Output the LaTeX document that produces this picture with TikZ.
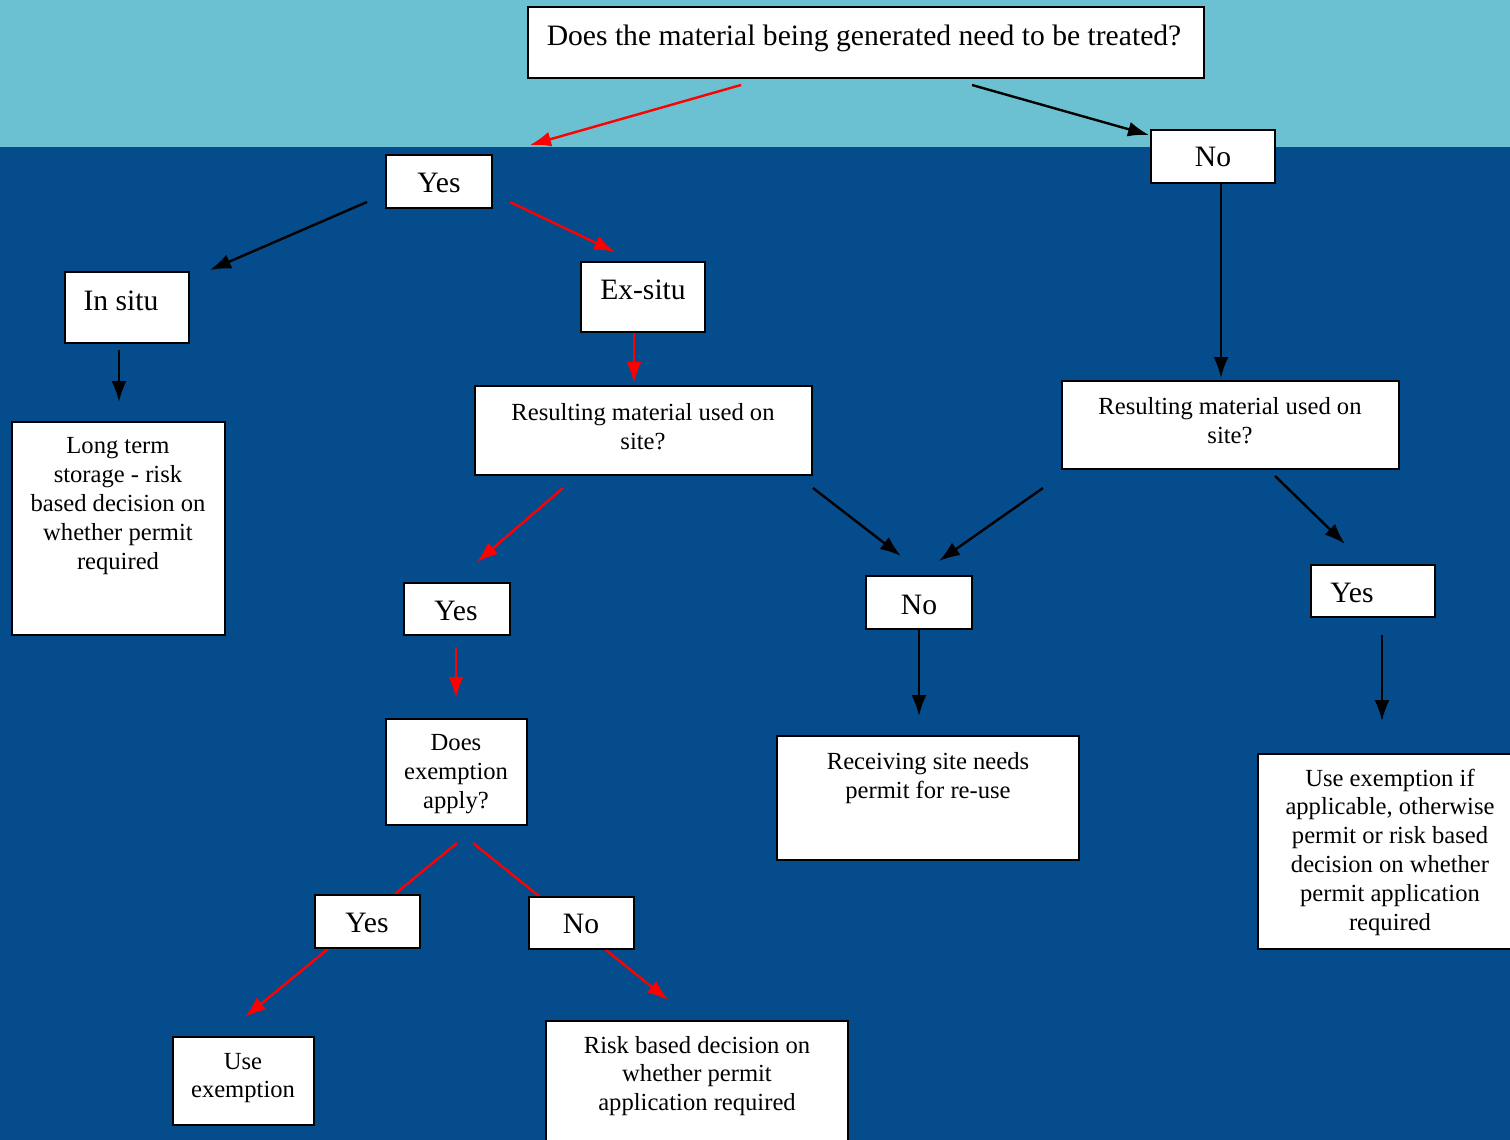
\documentclass[tikz,border=0pt]{standalone}
\usepackage{fontspec}
\setmainfont{Liberation Serif}
\usetikzlibrary{arrows.meta}
\definecolor{sky}{RGB}{107,193,210}
\definecolor{sea}{RGB}{5,76,140}
\tikzset{box/.style 2 args = {draw,fill=white,line width=1pt,inner sep=0pt,minimum width=#1*0.5pt,minimum height=#2*0.5pt}}
\tikzset{big/.style = {font=\fontsize{14.8}{17}\selectfont}}
\tikzset{small/.style = {align=center,font=\fontsize{12.3}{14.4}\selectfont}}
\tikzset{link/.style = {->,> = {Latex[length=10.5pt,width=7.5pt]},very thick}}
\tikzset{redlink/.style = {link,red}}

\begin{document}
\begin{tikzpicture}[x=0.5pt,y=-0.5pt]
\useasboundingbox (0,0) rectangle (1510,1140);
\fill[sky] (0,0) rectangle (1510,147);
\fill[sea] (0,147) rectangle (1510,1140);

\node[box={676}{71}] (q) at (866,42.5) {};
\node[big] (q-t) at (864,38) {Does the material being generated need to be treated?};
\node[box={106}{53}] (yesA) at (439,181.5) {};
\node[big] (yesA-t) at (439,183) {Yes};
\node[box={124}{53}] (noA) at (1213,156.5) {};
\node[big] (noA-t) at (1213,157) {No};
\node[box={124}{71}] (insitu) at (127,307.5) {};
\node[big] (insitu-t) at (121,301) {In situ};
\node[box={124}{70}] (exsitu) at (643,297) {};
\node[big] (exsitu-t) at (643,290) {Ex-situ};
\node[box={213}{213}] (longterm) at (118.5,528.5) {};
\node[small] (longterm-t) at (118,506) {Long term\\storage - risk\\based decision on\\whether permit\\required};
\node[box={337}{89}] (resL) at (643.5,430.5) {};
\node[small] (resL-t) at (643,427) {Resulting material used on\\site?};
\node[box={337}{88}] (resR) at (1230.5,425) {};
\node[small] (resR-t) at (1230,421) {Resulting material used on\\site?};
\node[box={106}{52}] (yesB) at (457,609) {};
\node[big] (yesB-t) at (456,611) {Yes};
\node[box={106}{53}] (noB) at (919,602.5) {};
\node[big] (noB-t) at (919,605) {No};
\node[box={124}{52}] (yesC) at (1373,591) {};
\node[big] (yesC-t) at (1352,593) {Yes};
\node[box={141}{106}] (exempt) at (456.5,772) {};
\node[small] (exempt-t) at (456,774) {Does\\exemption\\apply?};
\node[box={302}{124}] (recv) at (928,798) {};
\node[small] (recv-t) at (928,778) {Receiving site needs\\permit for re-use};
\node[box={264}{195}] (useif) at (1390,851.5) {};
\node[small] (useif-t) at (1390,852) {Use exemption if\\applicable, otherwise\\permit or risk based\\decision on whether\\permit application\\required};
\node[box={141}{88}] (useex) at (243.5,1081) {};
\node[small] (useex-t) at (243,1078) {Use\\exemption};
\node[box={302}{140}] (risk) at (697,1091) {};
\node[small] (risk-t) at (697,1076) {Risk based decision on\\whether permit\\application required};

\draw[redlink] ([shift={(0.5,17)}]exempt.south) -- ([shift={(1.5,-19)}]useex.north);
\draw[redlink] ([shift={(16.5,17)}]exempt.south) -- ([shift={(-29,-20)}]risk.north);

\node[box={105}{53}] (yesD) at (367.5,921.5) {};
\node[big] (yesD-t) at (367,923) {Yes};
\node[box={105}{52}] (noC) at (581.5,923) {};
\node[big] (noC-t) at (581,924) {No};

\draw[redlink] ([shift={(-125,6)}]q.south) -- ([shift={(91,-9)}]yesA.north);
\draw[link] ([shift={(106,6)}]q.south) -- ([shift={(-1,6)}]noA.north west);
\draw[link] ([shift={(-18,-7)}]yesA.south west) -- ([shift={(20,-1)}]insitu.north east);
\draw[redlink] ([shift={(17,-7)}]yesA.south east) -- ([shift={(-28,-9)}]exsitu.north);
\draw[link] ([shift={(8,0)}]noA.south) -- ([shift={(-9.5,-2)}]resR.north);
\draw[link] ([shift={(-8,6)}]insitu.south) -- ([shift={(0.5,-19)}]longterm.north);
\draw[redlink] ([shift={(-9,0)}]exsitu.south) -- ([shift={(-9.5,-2)}]resL.north);
\draw[redlink] ([shift={(-80.5,12)}]resL.south) -- ([shift={(20,-20)}]yesB.north);
\draw[link] ([shift={(0,12)}]resL.south east) -- ([shift={(-18,-19)}]noB.north);
\draw[link] ([shift={(-18,18)}]resR.south west) -- ([shift={(20,-14)}]noB.north);
\draw[link] ([shift={(44.5,6)}]resR.south) -- ([shift={(-28,-20)}]yesC.north);
\draw[redlink] ([shift={(-1,11)}]yesB.south) -- ([shift={(-0.5,-20)}]exempt.north);
\draw[link] (noB.south) -- ([shift={(-9,-19)}]recv.north);
\draw[link] ([shift={(9,17)}]yesC.south) -- ([shift={(-8,-32)}]useif.north);

\end{tikzpicture}
\end{document}
